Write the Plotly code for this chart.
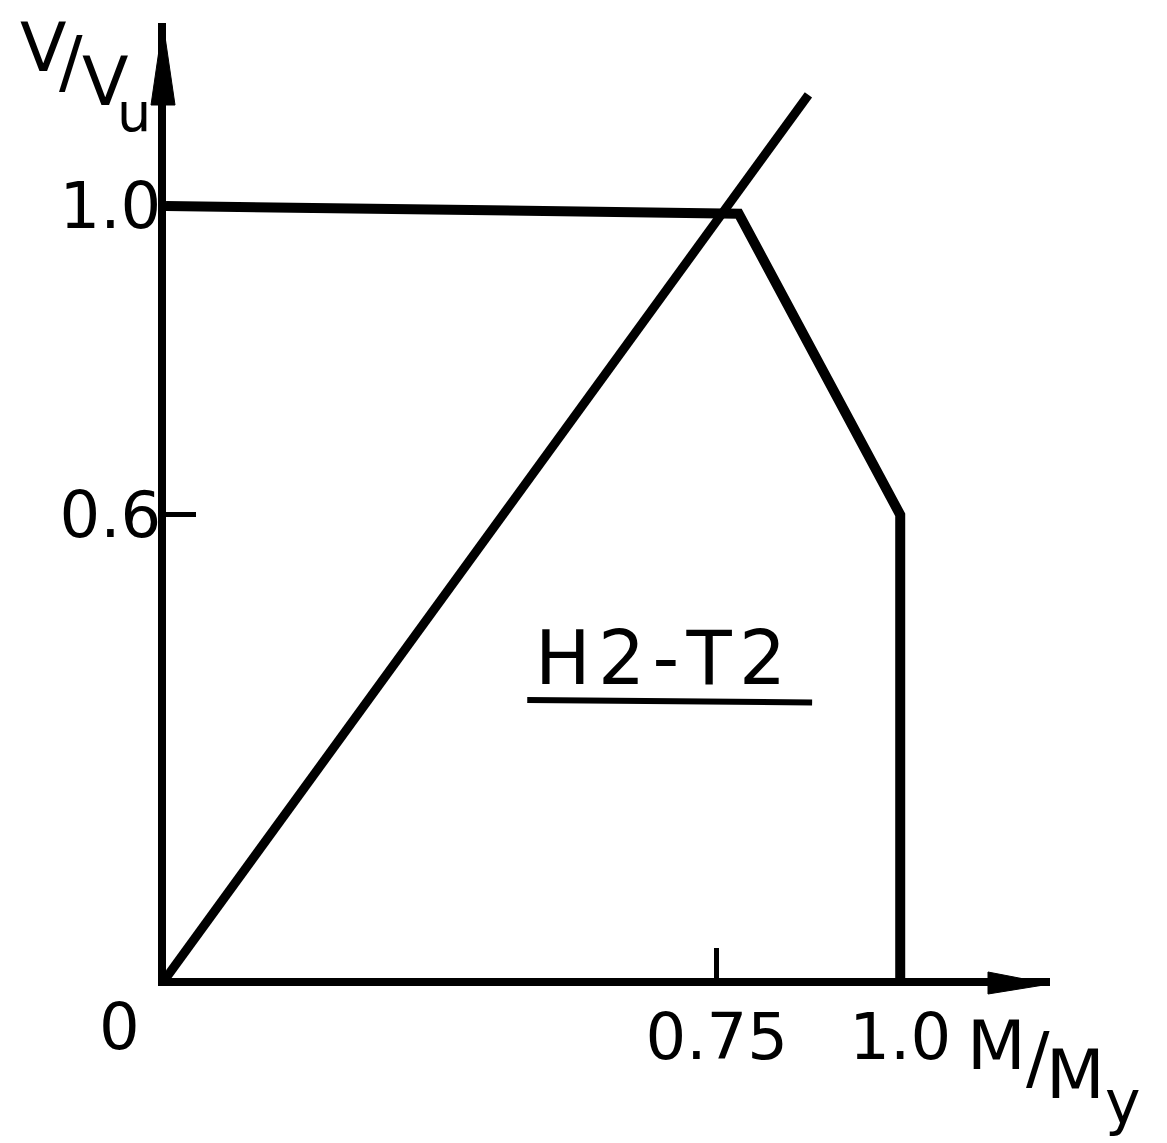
import plotly.graph_objects as go

# Interaction envelope of shear ratio vs. moment ratio (specimen H2-T2)
m_envelope = [0.0, 0.78, 1.0, 1.0]
v_envelope = [1.0, 0.99, 0.6, 0.0]

# Proportional loading path from the origin
m_path = [0.0, 0.875]
v_path = [0.0, 1.144]

# Axis ticks
m_tick_vals = [0.75, 1.0]
m_tick_text = ["0.75", "1.0"]
v_tick_vals = [0.6, 1.0]
v_tick_text = ["0.6", "1.0"]

m_max = 1.204
v_max = 1.237

FONT = "DejaVu Sans"
INK = "#000000"

fig = go.Figure()

fig.add_trace(go.Scatter(
    x=m_envelope, y=v_envelope, mode="lines",
    line=dict(color=INK, width=10), hoverinfo="skip", showlegend=False,
))
fig.add_trace(go.Scatter(
    x=m_path, y=v_path, mode="lines",
    line=dict(color=INK, width=9), hoverinfo="skip", showlegend=False,
))

axis_common = dict(
    showgrid=False, zeroline=False, showline=True,
    linecolor=INK, linewidth=8,
    ticks="inside", ticklen=30, tickwidth=5, tickcolor=INK,
    tickfont=dict(family=FONT, size=64, color=INK),
    tickmode="array", fixedrange=True,
)

fig.update_xaxes(range=[0, m_max], tickvals=m_tick_vals, ticktext=m_tick_text,
                 ticklabelstandoff=-4, **axis_common)
fig.update_yaxes(range=[0, v_max], tickvals=v_tick_vals, ticktext=v_tick_text,
                 ticklabelstandoff=-16, **axis_common)

# Arrowheads at the ends of both axes (pixel-sized, anchored to the plot corners)
fig.add_shape(type="path", xref="paper", yref="paper",
              xsizemode="pixel", ysizemode="pixel", xanchor=0, yanchor=1,
              path="M -3 0 L -15 -82 L 9 -82 Z",
              fillcolor=INK, line=dict(color=INK, width=1))
fig.add_shape(type="path", xref="paper", yref="paper",
              xsizemode="pixel", ysizemode="pixel", xanchor=1, yanchor=0,
              path="M 0 -6 L -62 6 L -62 -16 Z",
              fillcolor=INK, line=dict(color=INK, width=1))

# Underline beneath the specimen label
fig.add_shape(type="line", xref="x", yref="y",
              x0=0.492, x1=0.880, y0=0.360, y1=0.357,
              line=dict(color=INK, width=6))


def label(text, m, v, size):
    # Positions are given in data units and mapped to paper fractions so
    # that labels outside the axis ranges are still drawn.
    fig.add_annotation(text=text, x=m / m_max, y=v / v_max,
                       xref="paper", yref="paper",
                       showarrow=False, xanchor="center", yanchor="middle",
                       font=dict(family=FONT, size=size, color=INK))


label("H\u200a2\u200a-\u200aT\u200a2", 0.674, 0.415, 74)
label("0", -0.063, -0.063, 64)

# Vertical axis title  V/V_u, lettered as a stepped fraction
label("V", -0.167, 1.205, 68)
label("/", -0.129, 1.186, 70)
label("V", -0.083, 1.161, 68)
label("u", -0.043, 1.121, 54)

# Horizontal axis title  M/M_y
label("M", 1.131, -0.088, 68)
label("/", 1.188, -0.103, 70)
label("M", 1.239, -0.125, 68)
label("y", 1.303, -0.160, 60)

fig.update_layout(
    width=1167, height=1143,
    margin=dict(l=166, r=117, t=23, b=165),
    paper_bgcolor="white", plot_bgcolor="white",
    showlegend=False,
)

fig.write_html("out.html")
